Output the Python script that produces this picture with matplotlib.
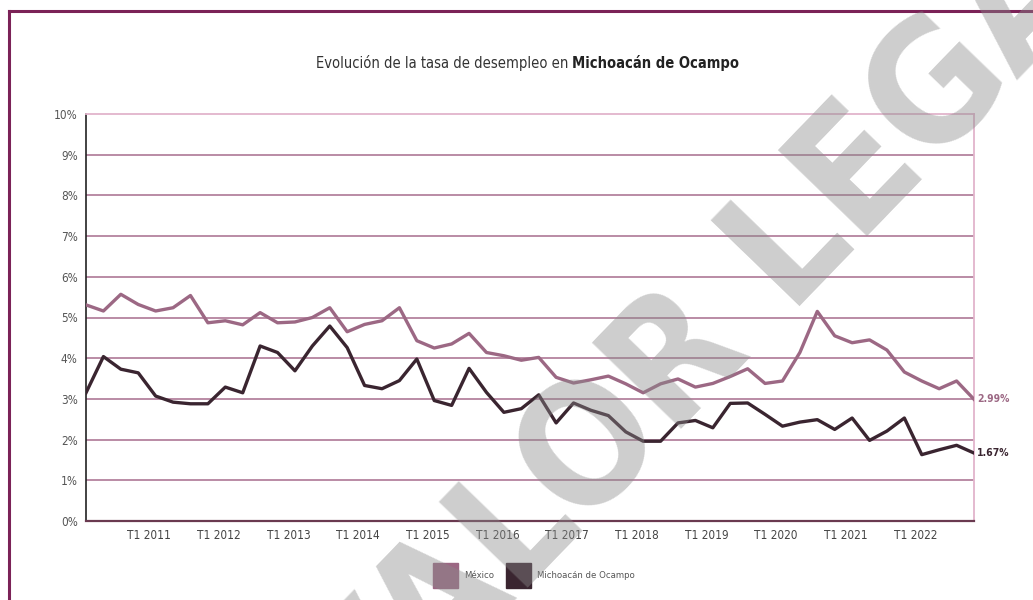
import matplotlib.pyplot as plt
from matplotlib.patches import Rectangle
from matplotlib.lines import Line2D
import numpy as np

# datos trimestrales T1 2010 - T4 2022 (%)
years = list(range(2010, 2023))
quarters = [f"T{q} {y}" for y in years for q in range(1, 5)]

mexico = [5.31, 5.16, 5.57, 5.32, 5.16, 5.24, 5.54, 4.87, 4.92, 4.82,
          5.12, 4.87, 4.89, 5.00, 5.24, 4.65, 4.83, 4.92, 5.24, 4.43,
          4.25, 4.35, 4.61, 4.14, 4.06, 3.95, 4.02, 3.53, 3.39, 3.47,
          3.56, 3.37, 3.15, 3.37, 3.49, 3.29, 3.38, 3.55, 3.74, 3.38,
          3.44, 4.14, 5.15, 4.55, 4.38, 4.45, 4.20, 3.66, 3.44, 3.25,
          3.44, 2.99]
michoacan = [3.15, 4.04, 3.73, 3.64, 3.07, 2.92, 2.88, 2.88, 3.29, 3.15,
             4.30, 4.14, 3.69, 4.30, 4.79, 4.26, 3.33, 3.25, 3.45, 3.98,
             2.96, 2.84, 3.75, 3.16, 2.67, 2.76, 3.10, 2.41, 2.90, 2.72,
             2.59, 2.19, 1.96, 1.96, 2.41, 2.47, 2.29, 2.89, 2.90, 2.62,
             2.33, 2.43, 2.49, 2.25, 2.53, 1.98, 2.21, 2.53, 1.63, 1.75,
             1.86, 1.67]

series_names = ["México", "Michoacán de Ocampo"]
colors = ["#9c6884", "#3a2530"]

plt.rcParams['font.family'] = ['DejaVu Sans']
plt.rcParams['font.stretch'] = 'condensed'

W, H = 1033, 600
fig = plt.figure(figsize=(W / 100, H / 100), dpi=100)

# marco
fig.add_artist(Line2D([9 / W, 9 / W], [0, 1 - 11 / H], color="#7b2257", lw=2.2))
fig.add_artist(Line2D([9 / W, 1], [1 - 11 / H, 1 - 11 / H], color="#7b2257", lw=2.2))

ax = fig.add_axes([86 / W, 1 - 521 / H, (974 - 86) / W, (521 - 114) / H])
x = np.arange(len(quarters))

for yv in range(1, 10):
    ax.axhline(yv, color="#b4829e", lw=1.3, zorder=1)
ax.plot(x, mexico, color=colors[0], lw=2.4, solid_joinstyle="round", zorder=3)
ax.plot(x, michoacan, color=colors[1], lw=2.4, solid_joinstyle="round", zorder=3)

ax.set_xlim(0, len(quarters) - 1)
ax.set_ylim(0, 10)
ax.set_yticks(range(0, 11))
ax.set_yticklabels([f"{v}%" for v in range(0, 11)], fontsize=8.5, color="#555555")
tick_idx = [i for i, q in enumerate(quarters) if q.startswith("T1") and q != "T1 2010"]
ax.set_xticks([i - 0.37 for i in tick_idx])
ax.set_xticklabels([quarters[i] for i in tick_idx], fontsize=8.5, color="#444444")
ax.tick_params(length=0, pad=6)

for s in ["top", "right"]:
    ax.spines[s].set_color("#e2b4cc")
    ax.spines[s].set_linewidth(1.3)
ax.spines["left"].set_color("#222222")
ax.spines["left"].set_linewidth(1.2)
ax.spines["bottom"].set_color("#6a3a50")
ax.spines["bottom"].set_linewidth(1.6)

# etiquetas al final
ax.annotate(f"{mexico[-1]:.2f}%", (x[-1], mexico[-1]), xytext=(2, 0), textcoords="offset points",
            va="center", ha="left", fontsize=7.5, color=colors[0], fontweight="bold",
            annotation_clip=False)
ax.annotate(f"{michoacan[-1]:.2f}%", (x[-1], michoacan[-1]), xytext=(2, 0), textcoords="offset points",
            va="center", ha="left", fontsize=7.5, color=colors[1], fontweight="bold",
            annotation_clip=False)

# titulo
t1 = fig.text(316 / W, 1 - 63 / H, "Evolución de la tasa de desempleo en ",
              ha="left", va="center", fontsize=10.5, color="#333333")
fig.canvas.draw()
bb = t1.get_window_extent()
fig.text(bb.x1 / W, 1 - 63 / H, "Michoacán de Ocampo", ha="left", va="center",
         fontsize=10.5, fontweight="bold", color="#222222")

# leyenda
lx = [433, 506]
for i, name in enumerate(series_names):
    fig.add_artist(Rectangle((lx[i] / W, 1 - 588 / H), 25 / W, 25 / H, color=colors[i]))
    fig.text((lx[i] + 31) / W, 1 - 576 / H, name, fontsize=6.8, color="#555555", va="center")

# marca de agua
fig.text(610 / W, 1 - 435 / H, "SIN VALOR LEGAL", rotation=46, fontsize=122, fontweight="bold",
         color="#8a8a8a", alpha=0.42, ha="center", va="center", rotation_mode="anchor",
         zorder=10)

fig.savefig("out.png", dpi=100)
